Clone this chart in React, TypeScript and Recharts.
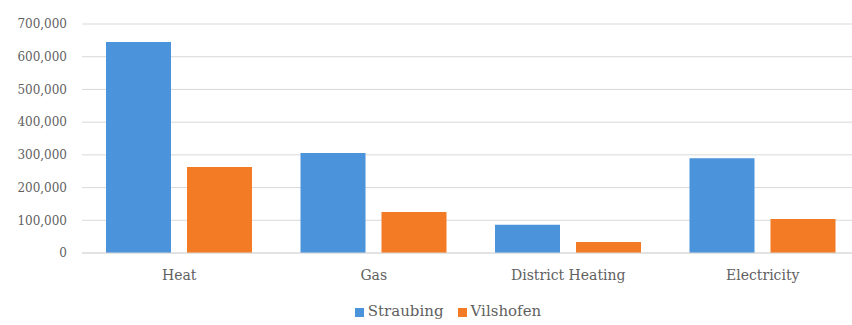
import React from "react";
import { BarChart, Bar, XAxis, YAxis, CartesianGrid, Legend } from "recharts";

const categories = ["Heat", "Gas", "District Heating", "Electricity"];
const straubing = [645000, 306000, 86000, 290000];
const vilshofen = [263000, 125000, 34000, 104000];
const yTicks = [0, 100000, 200000, 300000, 400000, 500000, 600000, 700000];

const data = categories.map((name, i) => ({
  name,
  Straubing: straubing[i],
  Vilshofen: vilshofen[i],
}));

const FONT = "'DejaVu Serif', serif";
const TEXT = "#5f5f5f";

export default function App() {
  return (
    <div
      style={{
        position: "absolute",
        left: 0,
        top: 0,
        width: 852,
        height: 325,
        overflow: "hidden",
        background: "#fff",
      }}
    >
      <BarChart
        width={860}
        height={325}
        data={data}
        margin={{ top: 24, right: 0, left: 0, bottom: 0 }}
        barSize={65}
        barGap={16}
      >
        <CartesianGrid vertical={false} stroke="#d9d9d9" />
        <XAxis
          dataKey="name"
          height={40}
          axisLine={{ stroke: "#d9d9d9" }}
          tickLine={false}
          tickMargin={11}
          tick={{ fontSize: 14, fill: TEXT, fontFamily: FONT }}
        />
        <YAxis
          width={82}
          domain={[0, 700000]}
          ticks={yTicks}
          axisLine={false}
          tickLine={false}
          tickMargin={9}
          tickFormatter={(v: number) => v.toLocaleString("en-US")}
          tick={{ fontSize: 12, fill: TEXT, fontFamily: FONT }}
        />
        <Legend
          verticalAlign="bottom"
          height={32}
          iconType="square"
          iconSize={9}
          wrapperStyle={{ fontSize: 15, fontFamily: FONT, color: TEXT, top: 302, left: 25 }}
          formatter={(value: string) => (
            <span style={{ color: TEXT, paddingRight: 4 }}>{value}</span>
          )}
        />
        <Bar dataKey="Straubing" fill="#4b93db" isAnimationActive={false} />
        <Bar dataKey="Vilshofen" fill="#f37b25" isAnimationActive={false} />
      </BarChart>
    </div>
  );
}
